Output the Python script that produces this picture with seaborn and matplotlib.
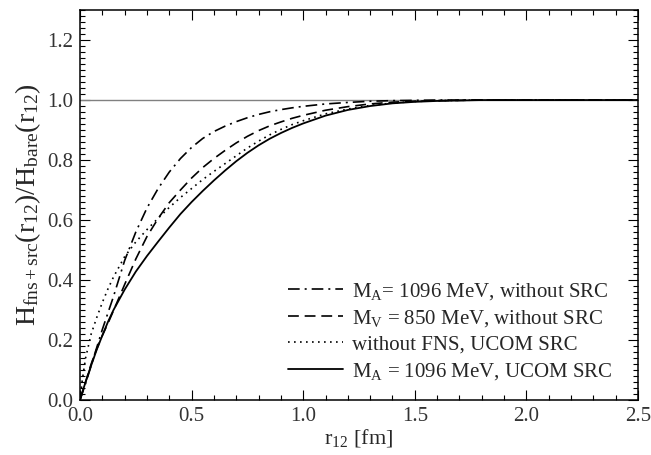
import numpy as np
import pandas as pd
import matplotlib
matplotlib.use("Agg")
import matplotlib.pyplot as plt
from matplotlib.ticker import MultipleLocator, FormatStrFormatter
import seaborn as sns

# values
r12 = [0.0, 0.01, 0.025, 0.05, 0.075, 0.1, 0.125, 0.15, 0.2, 0.25, 0.3, 0.35,
       0.4, 0.45, 0.5, 0.55, 0.6, 0.65, 0.7, 0.75, 0.8, 0.85, 0.9, 0.95, 1.0,
       1.1, 1.2, 1.3, 1.4, 1.5, 1.6, 1.8, 2.0, 2.5]

ma_no_src = [0.0, 0.022, 0.055, 0.115, 0.175, 0.235, 0.29, 0.345, 0.465, 0.56,
             0.64, 0.705, 0.76, 0.805, 0.842, 0.872, 0.895, 0.913, 0.928, 0.941,
             0.952, 0.961, 0.968, 0.974, 0.979, 0.987, 0.992, 0.996, 0.998,
             0.999, 1.0, 1.0, 1.0, 1.0]

mv_no_src = [0.0, 0.024, 0.06, 0.12, 0.17, 0.215, 0.255, 0.298, 0.385, 0.47,
             0.545, 0.605, 0.658, 0.70, 0.74, 0.775, 0.805, 0.832, 0.857, 0.879,
             0.898, 0.914, 0.927, 0.939, 0.949, 0.966, 0.978, 0.987, 0.993,
             0.996, 0.998, 1.0, 1.0, 1.0]

no_fns_ucom = [0.0, 0.065, 0.14, 0.22, 0.275, 0.325, 0.37, 0.41, 0.478, 0.527,
               0.568, 0.606, 0.642, 0.675, 0.705, 0.735, 0.762, 0.788, 0.814,
               0.84, 0.863, 0.884, 0.902, 0.918, 0.931, 0.954, 0.97, 0.982,
               0.99, 0.995, 0.998, 1.0, 1.0, 1.0]

ma_ucom = [0.0, 0.025, 0.06, 0.115, 0.168, 0.215, 0.26, 0.30, 0.368, 0.428,
           0.48, 0.528, 0.575, 0.62, 0.66, 0.697, 0.732, 0.765, 0.796, 0.824,
           0.849, 0.871, 0.89, 0.907, 0.922, 0.948, 0.967, 0.98, 0.989, 0.994,
           0.997, 1.0, 1.0, 1.0]

labels = ["M$_\\mathrm{A}$= 1096 MeV, without SRC",
          "M$_\\mathrm{V}$ = 850 MeV, without SRC",
          "without FNS, UCOM SRC",
          "M$_\\mathrm{A}$ = 1096 MeV, UCOM SRC"]

sns.set_style("ticks")
plt.rcParams["font.family"] = ["Liberation Serif", "DejaVu Serif"]
plt.rcParams["mathtext.fontset"] = "custom"
plt.rcParams["mathtext.rm"] = "Liberation Serif"
plt.rcParams["mathtext.it"] = "Liberation Serif:italic"
plt.rcParams["mathtext.bf"] = "Liberation Serif:bold"

fig = plt.figure(figsize=(6.51, 4.55), dpi=100)
ax = fig.add_axes([0.1229, 0.1209, 0.8571, 0.857])

ax.axhline(1.0, color="#808080", lw=1.0, zorder=1)

df = pd.DataFrame({"r": r12, "a": ma_no_src, "v": mv_no_src,
                   "n": no_fns_ucom, "u": ma_ucom})

sns.lineplot(data=df, x="r", y="a", ax=ax, color="black", lw=1.2,
             linestyle=(0, (7, 3, 1.2, 3)), label=labels[0])
sns.lineplot(data=df, x="r", y="v", ax=ax, color="black", lw=1.2,
             linestyle=(0, (6.5, 3.5)), label=labels[1])
sns.lineplot(data=df, x="r", y="n", ax=ax, color="black", lw=1.2,
             linestyle=(0, (1, 2.6)), label=labels[2])
sns.lineplot(data=df, x="r", y="u", ax=ax, color="black", lw=1.3,
             linestyle="-", label=labels[3])

ax.set_xlim(0, 2.5)
ax.set_ylim(0, 1.3)
ax.xaxis.set_major_locator(MultipleLocator(0.5))
ax.xaxis.set_minor_locator(MultipleLocator(0.1))
ax.yaxis.set_major_locator(MultipleLocator(0.2))
ax.yaxis.set_minor_locator(MultipleLocator(0.02))
ax.xaxis.set_major_formatter(FormatStrFormatter("%.1f"))
ax.yaxis.set_major_formatter(FormatStrFormatter("%.1f"))
ax.tick_params(which="both", direction="in", top=True, right=True,
               labelsize=15, colors="black", width=0.8)
ax.tick_params(which="major", length=7, pad=5)
ax.tick_params(which="minor", length=3.5)
for sp in ax.spines.values():
    sp.set_linewidth(1.1)
    sp.set_color("black")
for lab in ax.get_xticklabels() + ax.get_yticklabels():
    lab.set_color("#333333")

ax.set_xlabel("r$_{12}$ [fm]", fontsize=16, labelpad=1)
ax.set_ylabel("H$_\\mathrm{fns+src}$(r$_{12}$)/H$_\\mathrm{bare}$(r$_{12}$)",
              fontsize=20, labelpad=3)

leg = ax.legend(loc="lower right", bbox_to_anchor=(0.97, 0.025), frameon=False,
                fontsize=15, handlelength=2.65, handletextpad=0.45,
                labelspacing=0.3, borderaxespad=0)

fig.savefig("out.png", dpi=100)
